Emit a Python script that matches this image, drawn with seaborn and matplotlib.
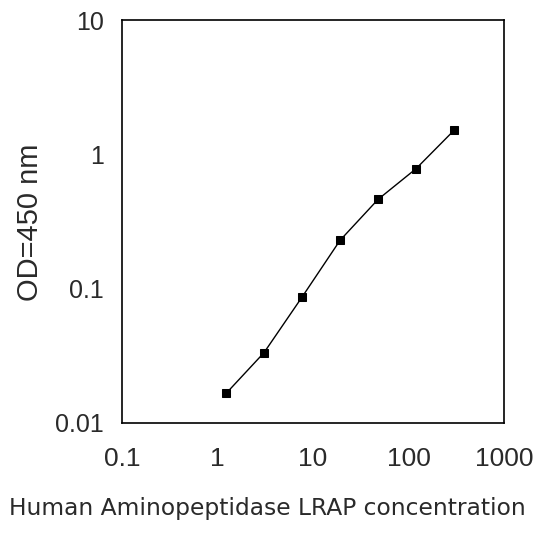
import matplotlib
matplotlib.use("Agg")
import matplotlib.pyplot as plt
import seaborn as sns
import pandas as pd

concentration = [1.23, 3.07, 7.68, 19.2, 48.0, 120.0, 300.0]
od450 = [0.0166, 0.0334, 0.0866, 0.229, 0.462, 0.782, 1.51]
x_ticks = [0.1, 1, 10, 100, 1000]
x_tick_labels = ["0.1", "1", "10", "100", "1000"]
y_ticks = [0.01, 0.1, 1, 10]
y_tick_labels = ["0.01", "0.1", "1", "10"]

sns.set_theme(style="white")
plt.rcParams['font.family'] = ['Liberation Sans', 'DejaVu Sans']

df = pd.DataFrame({"conc": concentration, "od": od450})

fig = plt.figure(figsize=(5.36, 5.42), dpi=100)
ax = fig.add_axes([122/536, 1-423/542, (504-122)/536, (423-20)/542])

sns.lineplot(data=df, x="conc", y="od", ax=ax, color="black", linewidth=1.0,
             marker="s", markersize=6, markeredgecolor="black",
             markerfacecolor="black")

ax.set_xscale("log")
ax.set_yscale("log")
ax.set_xlim(0.1, 1000)
ax.set_ylim(0.01, 10)
ax.set_xticks(x_ticks)
ax.set_xticklabels(x_tick_labels)
ax.set_yticks(y_ticks)
ax.set_yticklabels(y_tick_labels)
ax.minorticks_off()
ax.tick_params(axis="both", which="major", direction="out", length=4, width=1,
               color="black", labelcolor="#2a2a2a")
ax.tick_params(axis="x", pad=13, labelsize=19)
ax.tick_params(axis="y", pad=9, labelsize=18)
ax.set_xlabel("")
ax.set_ylabel("")
for s in ax.spines.values():
    s.set_visible(True)
    s.set_color("black")
    s.set_linewidth(1.2)

fig.text(30/536, 1-222/542, "OD=450 nm", rotation=90,
         ha="center", va="center", fontsize=21, color="#2a2a2a")
fig.text(267/536, 1-508/542, "Human Aminopeptidase LRAP concentration",
         ha="center", va="center", fontsize=16.8, color="#2a2a2a",
         family=["DejaVu Sans"])

fig.savefig("out.png", dpi=100)
